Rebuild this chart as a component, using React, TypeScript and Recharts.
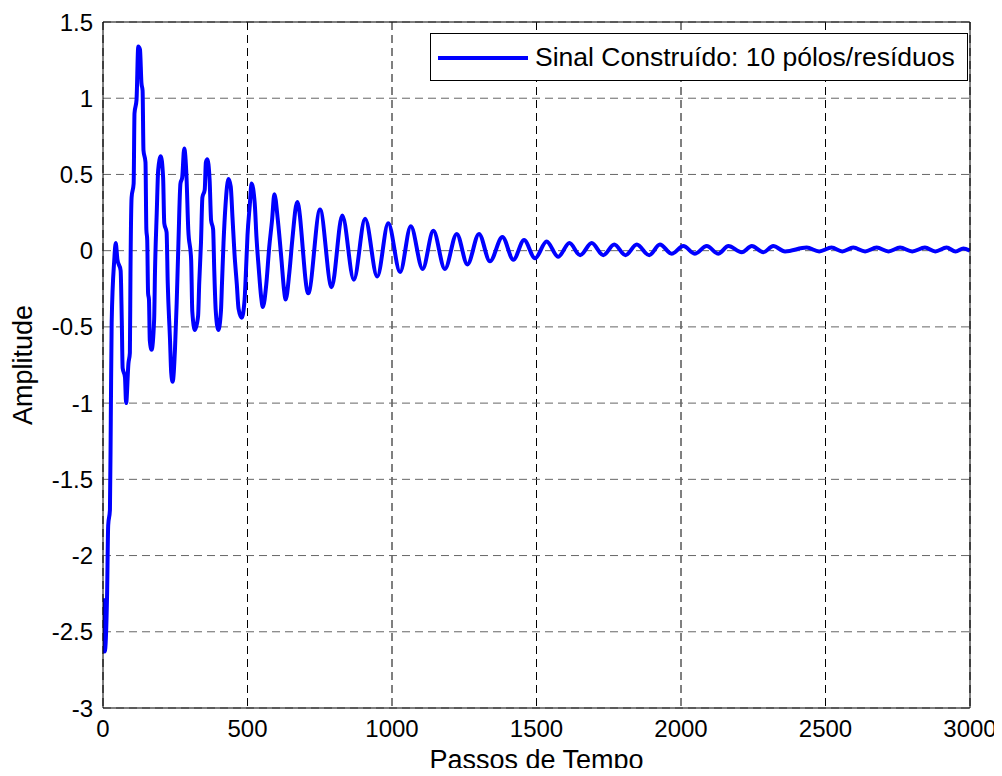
import React from "react";
import {
  LineChart,
  Line,
  XAxis,
  YAxis,
  CartesianGrid,
  Legend,
  Label,
} from "recharts";

// passos de tempo (eixo x)
const passos = [
  0, 6, 14, 18, 24, 27, 30, 39, 44, 50, 61, 65, 68, 76, 80, 88, 93, 95, 99,
  106, 109, 116, 122, 128, 133, 137, 140, 147, 150, 153, 156, 159, 162, 168,
  177, 180, 186, 191, 200, 208, 212, 220, 224, 232, 236, 241, 249, 255, 261,
  268, 274, 281, 289, 295, 305, 309, 318, 329, 333, 339, 344, 352, 356, 361,
  369, 374, 381, 385, 390, 399, 408, 412, 417, 424, 434, 442, 448, 455, 463,
  469, 480, 490, 495, 500, 508, 514, 525, 531, 539, 547, 553, 565, 575, 585,
  593, 605, 618, 626, 632, 645, 655, 672, 710, 751, 791, 828, 868, 907, 949,
  987, 1028, 1065, 1106, 1143, 1183, 1224, 1261, 1301, 1339, 1382, 1420, 1457,
  1495, 1535, 1575, 1614, 1651, 1691, 1731, 1769, 1808, 1847, 1890, 1927, 1968,
  2008, 2048, 2089, 2129, 2164, 2210, 2245, 2285, 2319, 2360, 2435, 2478, 2521,
  2558, 2596, 2637, 2677, 2718, 2758, 2800, 2844, 2880, 2919, 2950, 2977, 3000,
];

// amplitude do sinal construído
const amplitude = [
  -2.28, -2.63, -2.27, -1.8, -1.7, -1.1, -0.47, -0.06, 0.05, -0.06, -0.13,
  -0.46, -0.77, -0.83, -1.0, -0.74, -0.67, -0.16, 0.35, 0.44, 0.9, 0.99, 1.34,
  1.32, 1.1, 1.05, 0.66, 0.58, 0.14, 0.07, -0.28, -0.32, -0.59, -0.65, -0.45,
  -0.13, 0.25, 0.53, 0.62, 0.48, 0.18, 0.12, -0.21, -0.59, -0.8, -0.86, -0.65,
  -0.34, 0.05, 0.44, 0.48, 0.67, 0.48, 0.14, -0.06, -0.4, -0.52, -0.43, -0.21,
  0.05, 0.35, 0.4, 0.58, 0.6, 0.46, 0.2, 0.14, -0.13, -0.39, -0.52, -0.4, -0.2,
  0.05, 0.3, 0.47, 0.42, 0.22, -0.02, -0.22, -0.38, -0.44, -0.32, -0.12, 0.1,
  0.3, 0.44, 0.31, 0.09, -0.12, -0.3, -0.37, -0.22, 0.02, 0.2, 0.37, 0.2,
  -0.07, -0.25, -0.32, -0.14, 0.07, 0.32, -0.28, 0.27, -0.24, 0.23, -0.19,
  0.21, -0.17, 0.18, -0.14, 0.16, -0.12, 0.13, -0.12, 0.11, -0.09, 0.11, -0.07,
  0.09, -0.06, 0.07, -0.05, 0.06, -0.04, 0.05, -0.03, 0.05, -0.03, 0.04, -0.03,
  0.04, -0.03, 0.04, -0.02, 0.03, -0.02, 0.03, -0.02, 0.03, -0.01, 0.03, -0.01,
  0.03, -0.005, 0.02, -0.005, 0.02, -0.005, 0.02, -0.005, 0.02, -0.005, 0.02,
  -0.005, 0.02, -0.005, 0.02, -0.005, 0.015, 0.0,
];

const xTicks = [0, 500, 1000, 1500, 2000, 2500, 3000];
const yTicks = [-3, -2.5, -2, -1.5, -1, -0.5, 0, 0.5, 1, 1.5];
const nomeSerie = "Sinal Construído: 10 pólos/resíduos";

const data = passos.map((p, i) => ({ passo: p, amp: amplitude[i] }));

const fonte = "'Liberation Sans', Arial, Helvetica, sans-serif";

const LegendBox = () => (
  <div
    style={{
      border: "1px solid #000",
      background: "#fff",
      height: 46,
      display: "flex",
      alignItems: "center",
      fontFamily: fonte,
      fontSize: 26.5,
      color: "#000",
    }}
  >
    <svg width={104} height={46} style={{ flex: "none" }}>
      <line x1={7} x2={97} y1={24} y2={24} stroke="#0000ff" strokeWidth={4} />
    </svg>
    <span style={{ whiteSpace: "nowrap" }}>{nomeSerie}</span>
  </div>
);

export default function App() {
  return (
    <div style={{ marginBottom: -8 }}>
      <LineChart
        width={994}
        height={768}
        data={data}
        margin={{ top: 14, right: 32, left: 0, bottom: 0 }}
        style={{ fontFamily: fonte }}
      >
        {/* grade: verticais pretas, horizontais cinzentas */}
        <CartesianGrid
          xAxisId="x"
          yAxisId="y"
          horizontal={false}
          stroke="#000"
          strokeDasharray="8 5"
        />
        <CartesianGrid
          xAxisId="x"
          yAxisId="y"
          vertical={false}
          stroke="#666"
          strokeDasharray="8 5"
        />
        <XAxis
          xAxisId="x"
          type="number"
          dataKey="passo"
          domain={[0, 3000]}
          ticks={xTicks}
          height={68}
          tickLine={false}
          tickSize={6}
          tickMargin={6}
          stroke="#000"
          tick={{ fill: "#000", fontSize: 24 }}
          allowDataOverflow
        >
          <Label
            value="Passos de Tempo"
            position="insideBottom"
            offset={7}
            fill="#000"
            fontSize={27}
          />
        </XAxis>
        <XAxis
          xAxisId="xin"
          type="number"
          domain={[0, 3000]}
          ticks={xTicks}
          mirror
          tick={false}
          tickSize={7}
          axisLine={false}
          stroke="#000"
        />
        <XAxis
          xAxisId="xtop"
          orientation="top"
          type="number"
          domain={[0, 3000]}
          ticks={xTicks}
          mirror
          tick={false}
          tickSize={7}
          stroke="#000"
        />
        <YAxis
          yAxisId="y"
          type="number"
          domain={[-3, 1.5]}
          ticks={yTicks}
          width={95}
          tickLine={false}
          tickSize={6}
          tickMargin={4}
          stroke="#000"
          tick={{ fill: "#000", fontSize: 24 }}
          allowDataOverflow
        >
          <Label
            value="Amplitude"
            angle={-90}
            position="insideLeft"
            offset={14}
            fill="#000"
            fontSize={27}
            style={{ textAnchor: "middle" }}
          />
        </YAxis>
        <YAxis
          yAxisId="yin"
          type="number"
          domain={[-3, 1.5]}
          ticks={yTicks}
          mirror
          tick={false}
          tickSize={7}
          axisLine={false}
          stroke="#000"
        />
        <YAxis
          yAxisId="yright"
          orientation="right"
          type="number"
          domain={[-3, 1.5]}
          ticks={yTicks}
          mirror
          tick={false}
          tickSize={7}
          stroke="#000"
        />
        <Legend
          layout="vertical"
          align="center"
          verticalAlign="middle"
          wrapperStyle={{ top: 25, left: 422, width: 538 }}
          content={() => <LegendBox />}
        />
        <Line
          xAxisId="x"
          yAxisId="y"
          type="monotone"
          dataKey="amp"
          name={nomeSerie}
          stroke="#0000ff"
          strokeWidth={4}
          dot={false}
          activeDot={false}
          isAnimationActive={false}
        />
      </LineChart>
    </div>
  );
}
